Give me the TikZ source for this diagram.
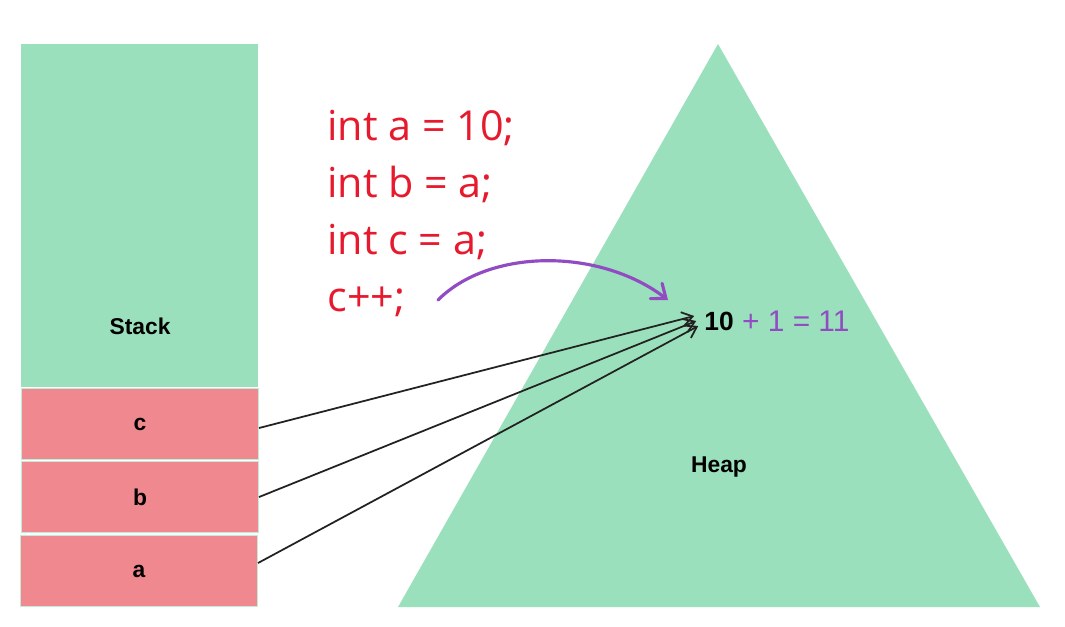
\documentclass[tikz,border=0pt]{standalone}
\usepackage{fontspec}
\setmainfont{Liberation Sans}
\newfontfamily\codefont{Open Sans}
\usetikzlibrary{arrows.meta}
\definecolor{stackgreen}{RGB}{155,224,188}
\definecolor{slotred}{RGB}{240,136,143}
\definecolor{codered}{RGB}{230,25,45}
\definecolor{penpurple}{RGB}{145,75,195}
\definecolor{ink}{RGB}{34,34,34}

\begin{document}
\begin{tikzpicture}[x=0.02cm, y=-0.02cm,
  slot/.style={fill=slotred, draw=stackgreen!60!white, line width=0.6pt, minimum width=4.74cm, minimum height=1.42cm, inner sep=0pt, anchor=north west, font=\bfseries\fontsize{13}{15}\selectfont},
  tag/.style={font=\bfseries\fontsize{13}{15}\selectfont, text=black},
  ptr/.style={draw=ink, line width=1pt, -{Straight Barb[length=6pt,width=8pt]}},
  codeline/.style={anchor=base west, text=codered, inner sep=0pt, font=\codefont\fontsize{23.5}{28}\selectfont}]
  \useasboundingbox[fill=white] (0,0) rectangle (1065,626);
  % stack
  \fill[stackgreen] (21,44) rectangle (258,387);
  \node[tag] (stacklbl) at (140,326) {Stack};
  \node[slot] (cslot) at (21,388) {c};
  \node[slot] (bslot) at (21,461) {b};
  \node[slot] (aslot) at (20,535) {a};
  % heap
  \fill[stackgreen] (718,44) -- (1040,607) -- (398,607) -- cycle;
  \node[tag] (heaplbl) at (719,467) {Heap};
  \node[font=\bfseries\fontsize{15}{17}\selectfont, inner sep=1pt] (ten) at (719,321) {10};
  \node[anchor=west, inner sep=0pt, text=penpurple, font=\fontsize{17}{19}\selectfont] (incr) at ([xshift=0.12cm]ten.east) {+ 1 = 11};
  % code
  \node[codeline] (codea) at (327,140) {int a = 10;};
  \node[codeline] (codeb) at (327,197) {int b = a;};
  \node[codeline] (codec) at (327,254) {int c = a;};
  \node[codeline] (codeinc) at (327,311) {c++;};
  % pointers
  \draw[ptr] ([yshift=-0.08cm]cslot.east) -- ([xshift=-0.16cm,yshift=0.1cm]ten.west);
  \draw[ptr] (bslot.east) -- ([xshift=-0.12cm]ten.west);
  \draw[ptr] ([yshift=0.16cm]aslot.east) -- ([xshift=-0.08cm,yshift=-0.1cm]ten.west);
  % the pen stroke
  \coordinate (penstart) at (438,300);
  \coordinate (pentip) at (668,300);
  \draw[penpurple, line width=1.8pt, line cap=round, -{Straight Barb[length=7pt,width=11pt,line cap=round]}]
    (penstart) .. controls (490,248) and (600,248) .. (pentip);
\end{tikzpicture}
\end{document}
